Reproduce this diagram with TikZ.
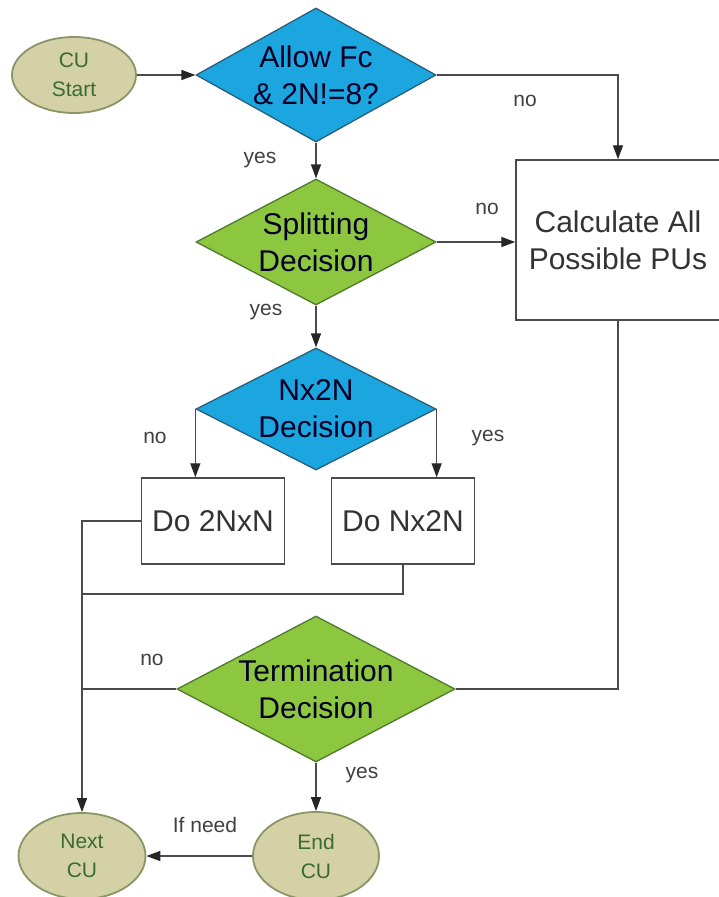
\documentclass[tikz,border=0pt]{standalone}
\usepackage{fontspec}
\setmainfont{Liberation Sans}
\usetikzlibrary{shapes.geometric,arrows.meta}
\definecolor{cublue}{HTML}{1CA6E0}
\definecolor{cubluedark}{HTML}{2A5F78}
\definecolor{cugreen}{HTML}{8DC63F}
\definecolor{cugreendark}{HTML}{4E7A2C}
\definecolor{cukhaki}{HTML}{D4D1A6}
\definecolor{cukhakidark}{HTML}{8A9566}
\definecolor{cutermtext}{HTML}{3B6B35}
\definecolor{culine}{HTML}{4A4A4A}
\tikzset{
	term/.style={ellipse, draw=cukhakidark, fill=cukhaki, line width=1.8pt, inner sep=0pt, align=center, text=cutermtext, font=\fontsize{21}{29}\selectfont},
	decblue/.style={diamond, draw=cubluedark, fill=cublue, line width=1.3pt, inner sep=0pt},
	decgreen/.style={diamond, draw=cugreendark, fill=cugreen, line width=1.3pt, inner sep=0pt},
	dtext/.style={align=center, text=black!85!blue, font=\fontsize{30}{37}\selectfont},
	procbox/.style={rectangle, draw=culine, fill=white, line width=1.5pt, align=center, text=black!80, font=\fontsize{30}{37}\selectfont},
	conn/.style={draw=culine, line width=1.4pt},
	flow/.style={conn, -{Triangle[length=14pt,width=10pt,color=black!85]}},
	lbl/.style={text=black!75, font=\fontsize{21}{24}\selectfont}
}
\begin{document}
\begin{tikzpicture}[x=1pt,y=-1pt]
\useasboundingbox (0,0) rectangle (718,897);
% start and first decision
\node[term, minimum width=124pt, minimum height=76pt] (start) at (74,75) {CU\\Start};
\node[decblue, minimum width=240pt, minimum height=134pt, label={[dtext]center:Allow Fc\\\& 2N!=8?}] (fc) at (316,75) {};
\node[procbox, minimum width=204pt, minimum height=160pt] (calc) at (618,240) {Calculate All\\Possible PUs};
\node[decgreen, minimum width=240pt, minimum height=126pt, label={[dtext]center:Splitting\\Decision}] (split) at (316,242) {};
% partition decision
\node[decblue, minimum width=240pt, minimum height=122pt, label={[dtext]center:Nx2N\\Decision}] (nx) at (316,409) {};
\node[procbox, minimum width=143pt, minimum height=86pt] (do2) at (213,521) {Do 2NxN};
\node[procbox, minimum width=143pt, minimum height=86pt] (dn) at (403,521) {Do Nx2N};
% termination
\node[decgreen, minimum width=278pt, minimum height=146pt, label={[dtext]center:Termination\\Decision}] (term) at (316,689) {};
\node[term, minimum width=127pt, minimum height=86pt] (next) at (82,856) {Next\\CU};
\node[term, minimum width=126pt, minimum height=88pt] (endcu) at (316,856) {End\\CU};
\coordinate (merge) at (82,594);
% labels
\node[lbl] (l1) at (525,101) {no};
\node[lbl] (l2) at (260,160) {yes};
\node[lbl] (l3) at (487,209) {no};
\node[lbl] (l4) at (266,312) {yes};
\node[lbl] (l5) at (155,438) {no};
\node[lbl] (l6) at (488,438) {yes};
\node[lbl] (l7) at (152,660) {no};
\node[lbl] (l8) at (362,775) {yes};
\node[lbl] (l9) at (205,825) {If need};
% connectors
\draw[flow] (start) -- (fc);
\draw[flow] (fc.east) -| (calc.north);
\draw[flow] (fc) -- (split);
\draw[flow] (split) -- (split -| calc.west);
\draw[flow] (split) -- (nx);
\draw[flow] (nx.west) -- (nx.west |- do2.north);
\draw[flow] (nx.east) -- (nx.east |- dn.north);
\draw[flow] (do2.west) -| (next.north);
\draw[conn] (dn.south) |- (merge);
\draw[conn] (term.west) -- (term.west -| next.north);
\draw[conn] (term.east) -| (calc.south);
\draw[flow] (term) -- (endcu);
\draw[flow] (endcu) -- (next);
\end{tikzpicture}
\end{document}
